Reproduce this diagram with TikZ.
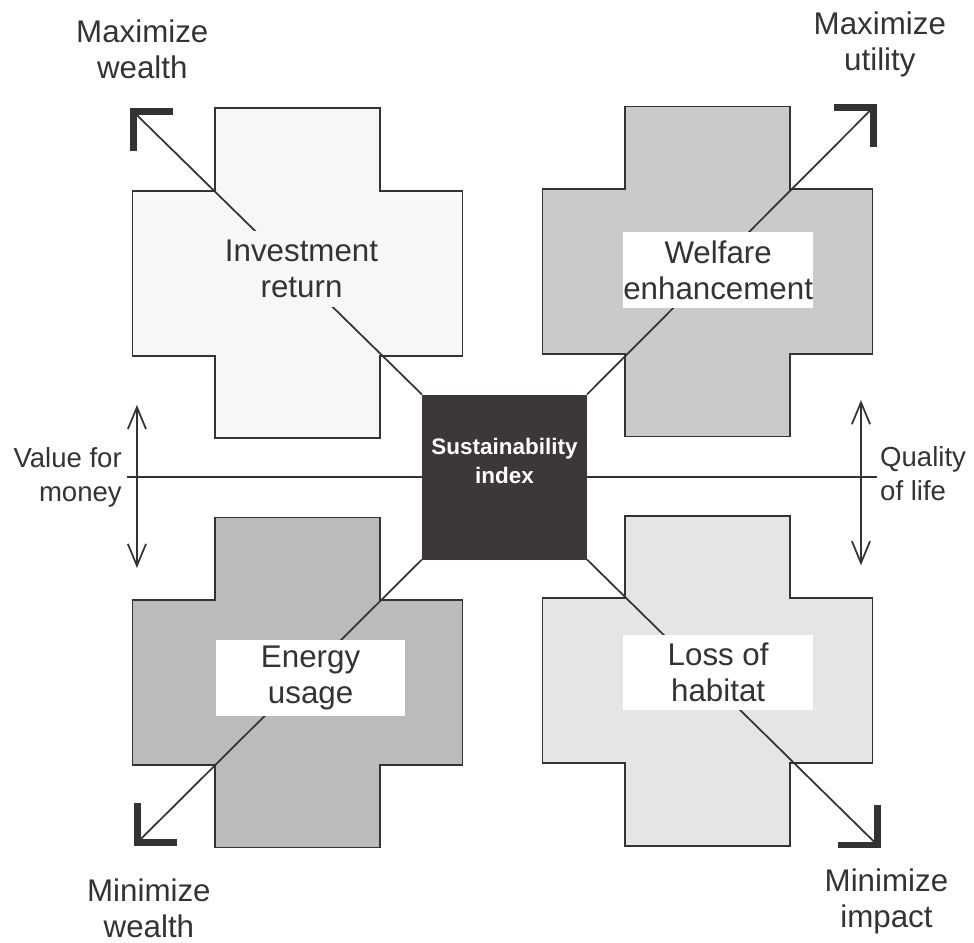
\documentclass[tikz,border=0pt]{standalone}
\usepackage{fontspec}
\setmainfont{Liberation Sans}
\usetikzlibrary{arrows.meta}

\definecolor{inkgray}{HTML}{333333}
\definecolor{hubdark}{HTML}{3D3737}
\definecolor{paleA}{HTML}{F7F7F5}
\definecolor{midB}{HTML}{CACACA}
\definecolor{darkC}{HTML}{BBBBBB}
\definecolor{lightD}{HTML}{E5E5E3}

\begin{document}
\begin{tikzpicture}[x=2cm,y=2cm,
        crossshape/.style={draw=inkgray,line width=1.2pt},
        hub/.style={fill=hubdark,minimum size=4cm,inner sep=0pt,outer sep=0pt},
        hubtext/.style={text=white,align=center,font=\bfseries\fontsize{15.5}{20}\selectfont},
        tag/.style={fill=white,minimum width=4.6cm,minimum height=1.84cm,inner sep=0pt,align=center,text=inkgray,font=\fontsize{21.6}{25}\selectfont},
        goal/.style={align=center,inner sep=0pt,text=inkgray,font=\fontsize{21.6}{25}\selectfont},
        side/.style={goal,font=\fontsize{19}{23.5}\selectfont},
        link/.style={draw=inkgray,line width=1.2pt},
        bracket/.style={draw=inkgray,line width=4.6pt,line cap=butt,line join=miter},
        twoway/.style={draw=inkgray,line width=1.2pt,{Straight Barb[length=0.53cm,width=0.44cm]}-{Straight Barb[length=0.53cm,width=0.44cm]}}]
        \useasboundingbox (-6.115,-5.648) rectangle (5.691,5.782);

        % 四个十字形
        \foreach \cx/\cy/\tone in {-2.51/2.47/paleA, 2.46/2.49/midB, -2.51/-2.49/darkC, 2.46/-2.47/lightD}
            \draw[crossshape,fill=\tone] (\cx-1,\cy+2) -- ++(2,0) -- ++(0,-1) -- ++(1,0) -- ++(0,-2) -- ++(-1,0)
                -- ++(0,-1) -- ++(-2,0) -- ++(0,1) -- ++(-1,0) -- ++(0,2) -- ++(1,0) -- cycle;

        % 中心方块
        \node[hub] (sq) at (0,0) {};
        \node[hubtext] (sqlabel) at (0,0.2) {Sustainability\\index};

        % 对角线和角标
        \coordinate (nw) at (-4.5,4.43);
        \coordinate (ne) at (4.47,4.48);
        \coordinate (sw) at (-4.45,-4.43);
        \coordinate (se) at (4.52,-4.46);
        \foreach \a/\b in {north west/nw, north east/ne, south west/sw, south east/se}
            \draw[link] (sq.\a) -- (\b);
        \foreach \p/\dx/\dy in {nw/0.48/-0.48, ne/-0.48/-0.48, sw/0.48/0.48, se/-0.48/0.48}
            \draw[bracket] (\p) ++(\dx,0) -- (\p) -- ++(0,\dy);

        % 水平轴和双向箭头
        \coordinate (vl) at (-4.576,0);
        \coordinate (vr) at (4.515,0);
        \draw[link] (vl) -- (sq.west);
        \draw[link] (sq.east) -- (vr);
        \coordinate (vup) at (-4.455,0.873);
        \coordinate (vdown) at (-4.455,-1.103);
        \coordinate (qup) at (4.321,0.933);
        \coordinate (qdown) at (4.321,-1.07);
        \draw[twoway] (vup) -- (vdown);
        \draw[twoway] (qup) -- (qdown);

        % 十字上的标签
        \node[tag,fill=paleA] (invest) at (-2.46,2.52) {Investment\\return};
        \node[tag] (welfare) at (2.59,2.51) {Welfare\\enhancement};
        \node[tag] (energy) at (-2.35,-2.44) {Energy\\usage};
        \node[tag] (habitat) at (2.59,-2.37) {Loss of\\habitat};

        % 外围标签
        \node[goal] (maxwealth) at (-4.39,5.18) {Maximize\\wealth};
        \node[goal] (maxutil) at (4.55,5.24) {Maximize\\utility};
        \node[goal] (minwealth) at (-4.31,-5.23) {Minimize\\wealth};
        \node[goal] (minimpact) at (4.63,-5.14) {Minimize\\impact};
        \node[side,anchor=east,align=right] (money) at (-4.636,0) {Value for\\money};
        \node[side,anchor=west,align=left] (life) at (4.551,0.04) {Quality\\of life};
    \end{tikzpicture}
\end{document}
